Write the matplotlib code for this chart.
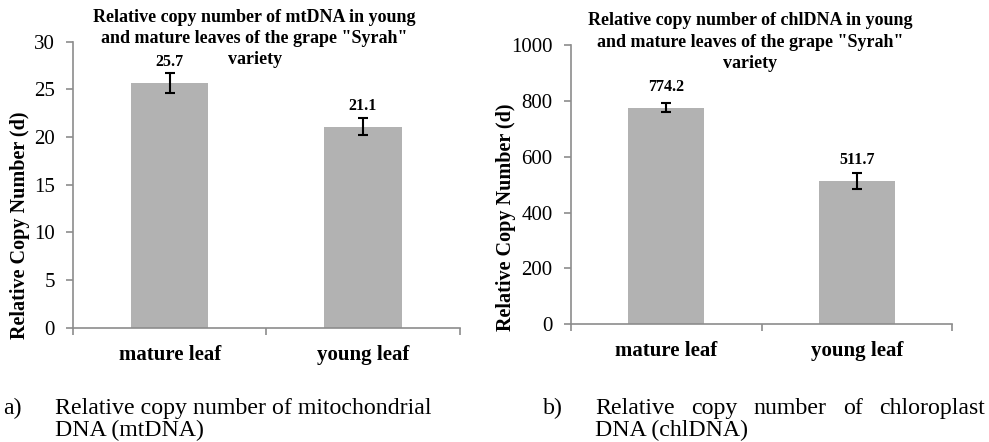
import numpy as np
import matplotlib.pyplot as plt

categories = ["mature leaf", "young leaf"]
mt_values = [25.7, 21.1]
mt_errors = [1.05, 0.88]
chl_values = [774.2, 511.7]
chl_errors = [15.5, 28]

mt_title = 'Relative copy number of mtDNA in young\nand mature leaves of the grape "Syrah"\nvariety'
chl_title = 'Relative copy number of chlDNA in young\nand mature leaves of the grape "Syrah"\nvariety'
ylabel = "Relative Copy Number (d)"


def bar_panel(ax, values, errors, title, ymax, ystep, label_xy, title_y):
    x = np.arange(len(categories))
    ax.bar(x, values, width=0.4, color="#b2b2b2")
    ax.errorbar(x, values, yerr=errors, fmt="none", ecolor="black",
                elinewidth=1.5, capsize=3.8, capthick=1.5)
    for xi, v in zip(x, values):
        ax.annotate(f"{v:.1f}", (xi, v), xytext=(0, 15), textcoords="offset points",
                    ha="center", va="center", fontsize=11.5, fontweight="bold")
    ax.set_xlim(-0.5, len(categories) - 0.5)
    ax.set_ylim(0, ymax)
    ax.set_yticks(np.arange(0, ymax + 1, ystep))
    ax.set_xticks(x)
    ax.set_xticklabels(categories, fontsize=15, fontweight="bold")
    ax.set_xticks([-0.5, 0.5, 1.5], minor=True)
    ax.tick_params(axis="x", which="major", length=0, pad=12)
    ax.tick_params(axis="x", which="minor", length=5, width=1.2, color="#8c8c8c")
    ax.tick_params(axis="y", length=5, width=1.2, color="#8c8c8c", labelsize=15, pad=8)
    for s in ["top", "right"]:
        ax.spines[s].set_visible(False)
    for s in ["left", "bottom"]:
        ax.spines[s].set_color("#8c8c8c")
        ax.spines[s].set_linewidth(1.2)
    ax.set_ylabel(ylabel, fontsize=14.5, fontweight="bold")
    ax.yaxis.set_label_coords(*label_xy)
    # title lines placed one by one so each line keeps its own box
    for i, line in enumerate(title.split("\n")):
        ax.text(0.47, title_y[i], line, transform=ax.transAxes, ha="center",
                va="center", fontsize=13, fontweight="bold")


def justified_line(fig, text, x0, x1, y, size):
    # spread the words of one caption line between x0 and x1 (figure pixels)
    words = text.split()
    r = fig.canvas.get_renderer()
    objs = [fig.text(0, y, w, fontsize=size, va="baseline") for w in words]
    widths = [o.get_window_extent(r).width for o in objs]
    gap = (x1 - x0 - sum(widths)) / (len(words) - 1)
    x = x0
    for o, w in zip(objs, widths):
        o.set_x(x / fig.bbox.width)
        x += w + gap


plt.rcParams["font.family"] = ["Liberation Serif", "DejaVu Serif"]
fig = plt.figure(figsize=(9.89, 4.42), dpi=100)

ax1 = fig.add_axes([0.0738, 0.258, 0.391, 0.648])
bar_panel(ax1, mt_values, mt_errors, mt_title, 30, 5, (-0.112, 0.36),
          [1.085, 1.012, 0.937])

ax2 = fig.add_axes([0.577, 0.266, 0.386, 0.633])
bar_panel(ax2, chl_values, chl_errors, chl_title, 1000, 200, (-0.142, 0.382),
          [1.087, 1.007, 0.934])

cap_size = 17.2
y1, y2 = 0.064, 0.014
fig.text(0.003, y1, "a)", fontsize=cap_size, va="baseline")
fig.text(0.0556, y1, "Relative copy number of mitochondrial", fontsize=cap_size, va="baseline")
fig.text(0.0556, y2, "DNA (mtDNA)", fontsize=cap_size, va="baseline")
fig.text(0.549, y1, "b)", fontsize=cap_size, va="baseline")
justified_line(fig, "Relative copy number of chloroplast", 595, 985, y1, cap_size)
fig.text(0.6016, y2, "DNA (chlDNA)", fontsize=cap_size, va="baseline")

fig.savefig("out.png", dpi=100)
